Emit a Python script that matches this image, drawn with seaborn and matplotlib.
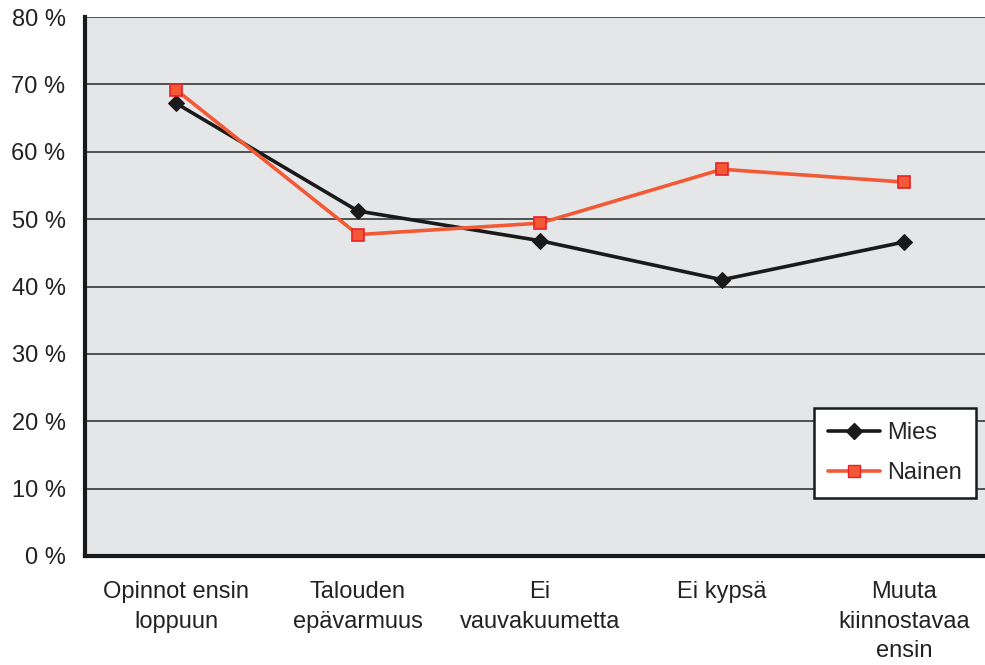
import matplotlib
matplotlib.use("Agg")
import matplotlib.pyplot as plt
import seaborn as sns
import pandas as pd
import numpy as np

categories = ["Opinnot ensin\nloppuun", "Talouden\nepävarmuus", "Ei\nvauvakuumetta", "Ei kypsä", "Muuta\nkiinnostavaa\nensin"]
mies = [67.2, 51.2, 46.8, 41.0, 46.6]
nainen = [69.2, 47.7, 49.4, 57.4, 55.5]
yticks = [0, 10, 20, 30, 40, 50, 60, 70, 80]

sns.set_style("white")
plt.rcParams["font.family"] = ["Liberation Sans", "DejaVu Sans"]

df = pd.DataFrame({
    "pos": list(range(len(categories))) * 2,
    "value": mies + nainen,
    "series": ["Mies"] * len(mies) + ["Nainen"] * len(nainen),
})

MIES_C = "#1a1a1a"
NAINEN_C = "#F15A35"

fig = plt.figure(figsize=(9.85, 6.65), dpi=100)
ax = fig.add_axes([85/985, 1 - 556/665, 910/985, (556 - 17)/665])
ax.set_facecolor("#E5E6E8")

for y in yticks[1:]:
    ax.axhline(y, color="#505050", lw=1.4, zorder=1)

sns.lineplot(data=df, x="pos", y="value", hue="series", style="series",
             palette={"Mies": MIES_C, "Nainen": NAINEN_C},
             markers={"Mies": "D", "Nainen": "s"}, dashes=False,
             lw=2.6, ax=ax, zorder=3, legend=False)
for ln in ax.lines:
    c = matplotlib.colors.to_rgb(ln.get_color())
    if np.allclose(c, matplotlib.colors.to_rgb(NAINEN_C)):
        ln.set_markersize(9); ln.set_markeredgecolor("#E8202A"); ln.set_markeredgewidth(1.2)
    elif np.allclose(c, matplotlib.colors.to_rgb(MIES_C)):
        ln.set_markersize(8.5); ln.set_markeredgecolor(MIES_C)

ax.set_xlim(-0.5, 4.5)
ax.set_ylim(0, 80)
ax.set_yticks(yticks)
ax.set_yticklabels([f"{v} %" for v in yticks], fontsize=17)
ax.set_xticks(range(len(categories)))
ax.set_xticklabels(categories, fontsize=17, linespacing=1.45)
ax.set_xticks(np.arange(-0.5, 4.6, 1), minor=True)
ax.tick_params(axis="x", which="major", length=0, pad=18)
ax.tick_params(axis="x", which="minor", length=7, width=1.5, color="#333333", direction="out")
ax.tick_params(axis="y", length=8, width=1.5, color="#333333", direction="out", pad=6, labelcolor="#222222")
ax.tick_params(axis="x", labelcolor="#222222")
ax.set_xlabel("")
ax.set_ylabel("")

for s in ["top", "right"]:
    ax.spines[s].set_visible(False)
for s in ["left", "bottom"]:
    ax.spines[s].set_linewidth(3)
    ax.spines[s].set_color(MIES_C)
    ax.spines[s].set_zorder(4)

from matplotlib.lines import Line2D
handles = [
    Line2D([], [], color=MIES_C, lw=2.6, marker="D", markersize=8.5, markeredgecolor=MIES_C),
    Line2D([], [], color=NAINEN_C, lw=2.6, marker="s", markersize=9, markeredgecolor="#E8202A"),
]
leg = ax.legend(handles, ["Mies", "Nainen"], loc="upper left",
                bbox_to_anchor=((814-85)/910, 1 - (408-17)/539), fontsize=17,
                frameon=True, fancybox=False, edgecolor=MIES_C, facecolor="white",
                framealpha=1, borderpad=0.6, handlelength=2.2, labelspacing=0.75,
                handletextpad=0.3, borderaxespad=0)
leg.get_frame().set_linewidth(1.8)
leg.set_zorder(5)

fig.savefig("out.png", dpi=100)
